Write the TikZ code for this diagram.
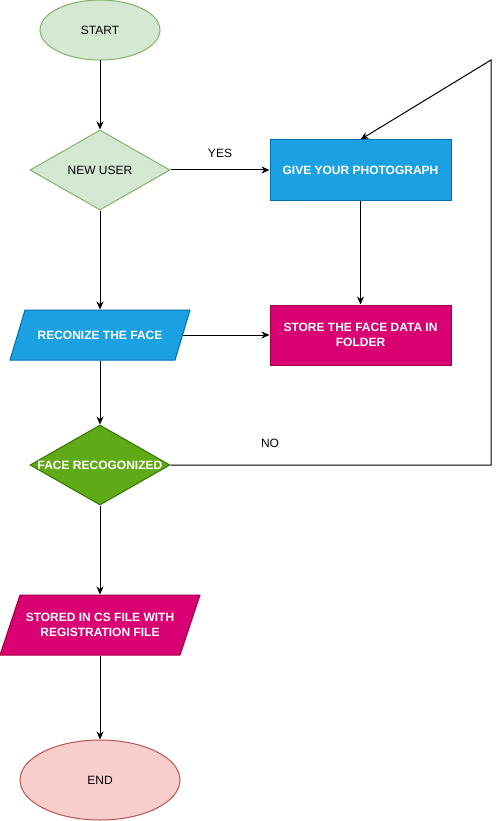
\documentclass[tikz,border=0pt]{standalone}
\usepackage{fontspec}
\setmainfont{Liberation Sans}
\usetikzlibrary{shapes.geometric,arrows.meta}
\definecolor{gfill}{HTML}{D5E8D4}
\definecolor{gline}{HTML}{82B366}
\definecolor{bfill}{HTML}{1BA1E2}
\definecolor{bline}{HTML}{006EAF}
\definecolor{pfill}{HTML}{D80073}
\definecolor{pline}{HTML}{A50040}
\definecolor{dgfill}{HTML}{60A917}
\definecolor{dgline}{HTML}{2D7600}
\definecolor{rfill}{HTML}{F8CECC}
\definecolor{rline}{HTML}{B85450}
\tikzset{
  base/.style={font=\fontsize{12}{15}\selectfont, inner sep=0pt, align=center, line width=1pt},
  terminal/.style={base, ellipse, minimum width=120pt, minimum height=60pt},
  decision/.style={base, diamond, minimum width=140pt, minimum height=80pt},
  procbox/.style={base, rectangle, minimum width=181pt, minimum height=60pt, text=white, font=\fontsize{12}{15}\selectfont\bfseries},
  iolabel/.style={base, rectangle, text=white, font=\fontsize{12}{15}\selectfont\bfseries},
  conn/.style={line width=1pt, -{Stealth[length=8pt,width=7pt,inset=2.5pt]}},
  plain/.style={font=\fontsize{12}{15}\selectfont}
}
\begin{document}
\begin{tikzpicture}[x=1pt,y=-1pt]
\useasboundingbox (0,0) rectangle (499,821);

% START
\node[terminal, draw=gline, fill=gfill] (start) at (100,30) {START};
% NEW USER
\node[decision, draw=gline, fill=gfill] (newuser) at (100,170) {NEW USER};
% GIVE YOUR PHOTOGRAPH
\node[procbox, draw=bline, fill=bfill] (give) at (360.5,170) {GIVE YOUR PHOTOGRAPH};
% STORE THE FACE DATA
\node[procbox, draw=pline, fill=pfill] (store) at (360.5,335) {STORE THE FACE DATA IN\\FOLDER};
% RECONIZE parallelogram
\draw[line width=1pt, draw=bline, fill=bfill] (25,310) -- (190,310) -- (175,360) -- (10,360) -- cycle;
\node[iolabel, minimum width=165pt, minimum height=50pt] (rec) at (100,335) {RECONIZE THE FACE};
% FACE RECOGONIZED diamond
\node[decision, draw=dgline, fill=dgfill] (face) at (100,465) {};
\node[iolabel] (facetxt) at (100,465) {FACE RECOGONIZED};
% STORED parallelogram
\draw[line width=1pt, draw=pline, fill=pfill] (20,595) -- (200,595) -- (180,655) -- (0,655) -- cycle;
\node[iolabel, minimum width=180pt, minimum height=60pt] (csv) at (100,625) {STORED IN CS FILE WITH\\REGISTRATION FILE};
% END
\node[terminal, draw=rline, fill=rfill, minimum width=160pt, minimum height=80pt] (end) at (100,780) {END};

% corner coordinates for feedback loop
\coordinate (c1) at (491,465);
\coordinate (c2) at (491,60);

% connectors
\draw[conn] (start) -- (newuser);
\draw[conn] (newuser) -- (give);
\draw[conn] (newuser) -- (rec);
\draw[conn] (give) -- (store);
\draw[conn] (rec) -- (store);
\draw[conn] (rec) -- (face);
\draw[conn] (face) -- (csv);
\draw[conn] (csv) -- (end);
\draw[conn] (face.east) -- (c1) -- (c2) -- (give.north);

% labels
\node[plain] (yes) at (220,153) {YES};
\node[plain] (no) at (270,443) {NO};
\end{tikzpicture}
\end{document}
